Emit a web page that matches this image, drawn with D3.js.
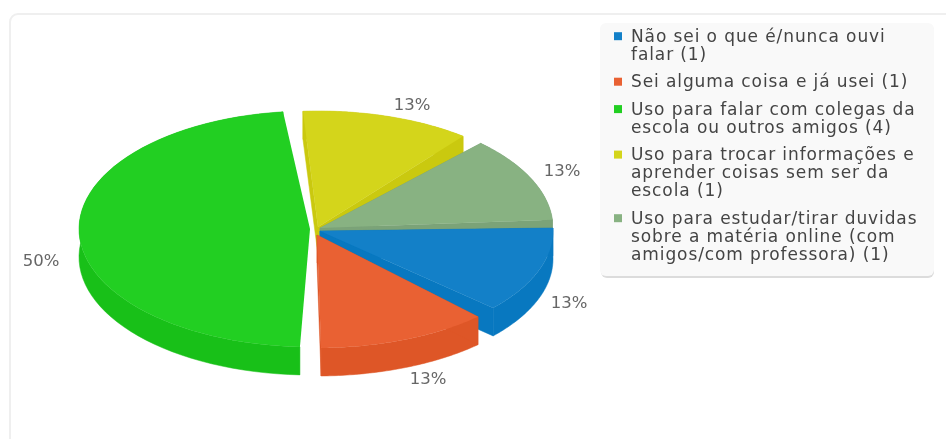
<!DOCTYPE html>
<html><head><meta charset="utf-8">
<script src="https://cdn.jsdelivr.net/npm/d3@7"></script>
<style>html,body{margin:0;padding:0;background:#fff;overflow:hidden}svg{display:block;filter:blur(.35px)}text{font-family:"DejaVu Sans",sans-serif}</style>
</head><body><svg id="c" width="946" height="439"></svg>
<script>
const categories = ["Não sei o que é/nunca ouvi falar (1)","Sei alguma coisa e já usei (1)","Uso para falar com colegas da escola ou outros amigos (4)","Uso para trocar informações e aprender coisas sem ser da escola (1)","Uso para estudar/tirar duvidas sobre a matéria online (com amigos/com professora) (1)"];
const legendLines = [["Não sei o que é/nunca ouvi","falar (1)"],["Sei alguma coisa e já usei (1)"],["Uso para falar com colegas da","escola ou outros amigos (4)"],["Uso para trocar informações e","aprender coisas sem ser da","escola (1)"],["Uso para estudar/tirar duvidas","sobre a matéria online (com","amigos/com professora) (1)"]];
const values = [1,1,4,1,1];
const topColors = ["#1380c8","#e96133","#22cf22","#d4d51b","#88b282"];
const sideColors = ["#0878c0","#de5627","#18c018","#cac90f","#7ba378"];

// Exploded, perspective-tilted layout of each slice (screen parameter range in degrees)
const views = [
 {rx:233,cx:320,cy:231,ry:115,from:-1.5,to:42,  lx:569,ly:302,startFace:true},
 {rx:233,cx:317,cy:235,ry:113,from:46.3,to:89,  lx:428,ly:378,startFace:true},
 {rx:231,cx:310,cy:229,ry:118,from:92.5,to:263.3,lx:41,ly:260,startFace:false},
 {rx:233,cx:318,cy:227,ry:116,from:266.3,to:308.5,lx:412,ly:104,startFace:true},
 {rx:233,cx:320,cy:228,ry:117,from:313.6,to:356,lx:562,ly:170,startFace:true}];
const depth = 28;
const paintOrder = [3,4,0,1,2];

const svg = d3.select("#c");
svg.append("rect").attr("x",10).attr("y",14).attr("width",960).attr("height",460).attr("rx",8)
   .attr("fill","#fff").attr("stroke","#efefef").attr("stroke-width",2);

const arcs = d3.pie().sort(null).value(d=>d)(values);
const line = d3.line();

function geometry(i){
  const v = views[i], a = arcs[i];
  const toT = d3.scaleLinear().domain([a.startAngle,a.endAngle]).range([v.from,v.to]);
  const steps = d3.range(0,61).map(k=>toT(a.startAngle+(a.endAngle-a.startAngle)*k/60)*Math.PI/180);
  const rim = steps.map(t=>[v.cx+v.rx*Math.cos(t),v.cy+v.ry*Math.sin(t)]);
  return {v,rim};
}
const drop = p=>[p[0],p[1]+depth];
paintOrder.forEach(i=>{
  const {v,rim} = geometry(i);
  const apex=[v.cx,v.cy];
  const g = svg.append("g");
  const faces = [[...rim,...rim.map(drop).reverse()]];
  if(v.startFace) faces.push([apex,rim[0],drop(rim[0]),drop(apex)]);
  if(i!==2) faces.push([apex,rim[rim.length-1],drop(rim[rim.length-1]),drop(apex)]);
  faces.forEach(f=>g.append("path").attr("d",line(f)+"Z").attr("fill",sideColors[i]).attr("stroke",sideColors[i]).attr("stroke-width",.5));
  g.append("path").attr("d",line([apex,...rim])+"Z").attr("fill",topColors[i]);
});

const total = d3.sum(values);
values.forEach((d,i)=>{
  svg.append("text").attr("x",views[i].lx).attr("y",views[i].ly).attr("dy",".36em")
     .attr("text-anchor","middle").attr("font-size",16.5).attr("fill","#666")
     .text(Math.round(d/total*100)+"%");
});

// Legend
const lg = svg.append("g");
lg.append("rect").attr("x",601).attr("y",24).attr("width",333).attr("height",253).attr("rx",6).attr("fill","#dcdcdc").attr("transform","translate(0,1)");
lg.append("rect").attr("x",600).attr("y",23).attr("width",334).attr("height",253).attr("rx",6).attr("fill","#f9f9f9");
const lineH = 18.1, gap = 9.3;
let y = 35.7;
legendLines.forEach((ls,i)=>{
  lg.append("rect").attr("x",614).attr("y",y-3.5).attr("width",8).attr("height",8).attr("fill",topColors[i]);
  ls.forEach((s,j)=>{
    lg.append("text").attr("x",631).attr("y",y+j*lineH).attr("dy",".36em").attr("font-size",17).attr("letter-spacing",.9).attr("fill","#444").text(s);
  });
  y += ls.length*lineH + gap;
});
</script></body></html>
